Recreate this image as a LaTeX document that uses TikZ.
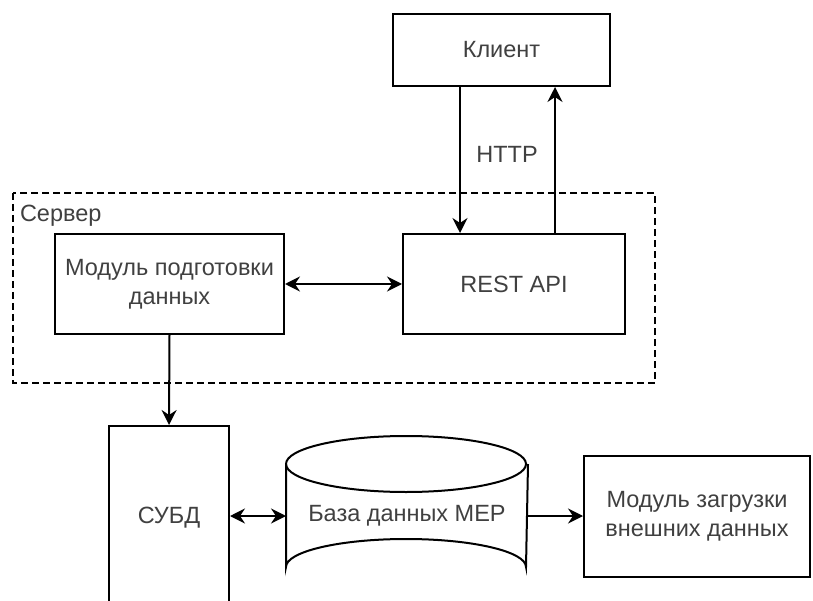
\documentclass[tikz,border=0pt]{standalone}
\usepackage{fontspec}
\setmainfont{Liberation Sans}
\usetikzlibrary{arrows.meta,calc}
\begin{document}
\begin{tikzpicture}[x=1pt,y=-1pt,
  line width=2pt,
  box/.style={draw, rectangle, inner sep=0pt, text=black!75,
    font=\fontsize{23.5}{29}\selectfont, align=center},
  lbl/.style={inner sep=0pt, text=black!75, font=\fontsize{23.5}{29}\selectfont},
  arr/.style={-{Stealth[length=15pt,width=15pt,inset=5pt]}},
  darr/.style={{Stealth[length=15pt,width=15pt,inset=5pt]}-{Stealth[length=15pt,width=15pt,inset=5pt]}}]
\useasboundingbox (0,0) rectangle (813,601);
\clip (0,0) rectangle (813,601);

% server boundary
\draw[dashed, line width=1.6pt, dash pattern=on 7pt off 4pt] (13,193) rectangle (655,383);
\node[lbl, anchor=west] (srv) at (19,216) {Сервер};

% boxes
\node[box, minimum width=217pt, minimum height=72pt] (client) at (501.5,50) {Клиент};
\node[box, minimum width=222pt, minimum height=100pt] (rest) at (514,284) {REST API};
\node[box, minimum width=229pt, minimum height=100pt] (prep) at (169.5,284) {Модуль подготовки\\данных};
\node[box, minimum width=120pt, minimum height=184pt] (dbms) at (169,518) {СУБД};
\node[box, minimum width=226pt, minimum height=121pt] (ext) at (697,516.5) {Модуль загрузки\\внешних данных};

% database cylinder
\node[lbl, minimum width=240pt, minimum height=159pt] (db) at (407,516) {База данных MEP};
\draw (db.west |- 0,464) arc[start angle=180, end angle=-180, x radius=120, y radius=28];
\draw (db.west |- 0,464) -- (db.west |- 0,567)
      arc[start angle=180, end angle=360, x radius=120, y radius=28]
      -- (db.east |- 0,464);

% connectors
\coordinate (cx1) at (460,0);
\coordinate (cx2) at (555,0);
\draw[arr] (client.south -| cx1) -- (rest.north -| cx1);
\draw[arr] (rest.north -| cx2) -- (client.south -| cx2);
\node[lbl] (http) at (507,154) {HTTP};
\draw[darr] (prep.east) -- (rest.west);
\draw[arr] (prep.south) -- (dbms.north);
\draw[darr] (dbms.east |- db.west) -- (db.west);
\draw[arr] (db.east) -- (ext.west |- db.east);
\end{tikzpicture}
\end{document}
